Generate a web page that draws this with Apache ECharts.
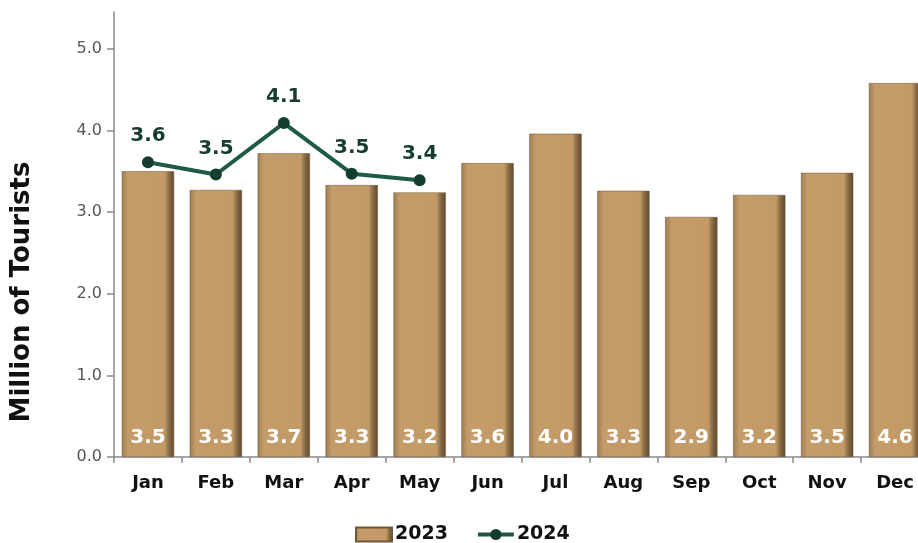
<!DOCTYPE html>
<html>
<head>
<meta charset="utf-8">
<script src="https://cdn.jsdelivr.net/npm/echarts@6/dist/echarts.min.js"></script>
<style>
  html, body { margin: 0; padding: 0; background: #ffffff; overflow: hidden; }
  #chart { width: 930px; height: 543px; }
</style>
</head>
<body>
<div id="chart"></div>
<script>
const months = ['Jan', 'Feb', 'Mar', 'Apr', 'May', 'Jun', 'Jul', 'Aug', 'Sep', 'Oct', 'Nov', 'Dec'];
const tourists2023 = [3.50, 3.27, 3.72, 3.33, 3.24, 3.60, 3.96, 3.26, 2.94, 3.21, 3.48, 4.58];
const tourists2024 = [3.61, 3.46, 4.09, 3.47, 3.39];
const yTicks = [0, 1, 2, 3, 4, 5];

const font = '"DejaVu Sans", sans-serif';

const barFill = new echarts.graphic.LinearGradient(0, 0, 1, 0, [
  { offset: 0, color: '#9f7d51' },
  { offset: 0.12, color: '#c39c69' },
  { offset: 0.82, color: '#c19a66' },
  { offset: 0.9, color: '#8a6c45' },
  { offset: 1, color: '#5c4830' }
]);

const chart = echarts.init(document.getElementById('chart'));

const option = {
  backgroundColor: '#ffffff',
  animation: false,
  grid: { left: 114, right: 1, top: 12, bottom: 86 },
  legend: {
    bottom: -6,
    left: 350,
    itemGap: 28,
    itemWidth: 36,
    itemHeight: 14,
    textStyle: { fontFamily: font, fontWeight: 'bold', fontSize: 19, color: '#111', padding: [0, 0, 0, -2] },
    data: [
      { name: '2023', icon: 'rect' },
      { name: '2024', lineStyle: { width: 4 } }
    ]
  },
  graphic: [{
    type: 'text',
    x: 22,
    y: 292,
    rotation: Math.PI / 2,
    style: {
      text: 'Million of Tourists',
      fontFamily: font,
      fontWeight: 'bold',
      fontSize: 26,
      fill: '#111',
      align: 'center',
      verticalAlign: 'middle'
    }
  }],
  xAxis: {
    type: 'category',
    data: months,
    axisLine: { lineStyle: { color: '#8a8a8a', width: 1.5 } },
    axisTick: { show: true, length: 6, lineStyle: { color: '#8a8a8a', width: 1.5 } },
    axisLabel: {
      margin: 17,
      fontFamily: font,
      fontWeight: 'bold',
      fontSize: 18,
      color: '#111'
    }
  },
  yAxis: {
    type: 'value',
    min: 0,
    max: 5.45,
    splitLine: { show: false },
    axisLine: { show: true, lineStyle: { color: '#8a8a8a', width: 1.5 } },
    axisTick: { show: true, length: 7, customValues: yTicks, lineStyle: { color: '#8a8a8a', width: 1.5 } },
    axisLabel: {
      customValues: yTicks,
      margin: 12,
      fontFamily: font,
      fontSize: 16,
      color: '#555',
      formatter: v => v.toFixed(1)
    }
  },
  series: [
    {
      name: '2023',
      type: 'bar',
      data: tourists2023,
      barCategoryGap: '23%',
      itemStyle: { color: barFill, borderColor: '#6f5738', borderWidth: 0.5 },
      label: {
        show: true,
        position: 'insideBottom',
        distance: 9,
        fontFamily: font,
        fontWeight: 'bold',
        fontSize: 20,
        color: '#ffffff',
        formatter: p => p.value.toFixed(1)
      }
    },
    {
      name: '2024',
      type: 'line',
      data: tourists2024,
      symbol: 'circle',
      symbolSize: 12,
      lineStyle: { color: '#1f5a47', width: 4 },
      itemStyle: { color: '#123d30' },
      label: {
        show: true,
        position: 'top',
        distance: 10,
        fontFamily: font,
        fontWeight: 'bold',
        fontSize: 20,
        color: '#173d31',
        formatter: p => p.value.toFixed(1)
      }
    }
  ]
};

chart.setOption(option);
</script>
</body>
</html>
